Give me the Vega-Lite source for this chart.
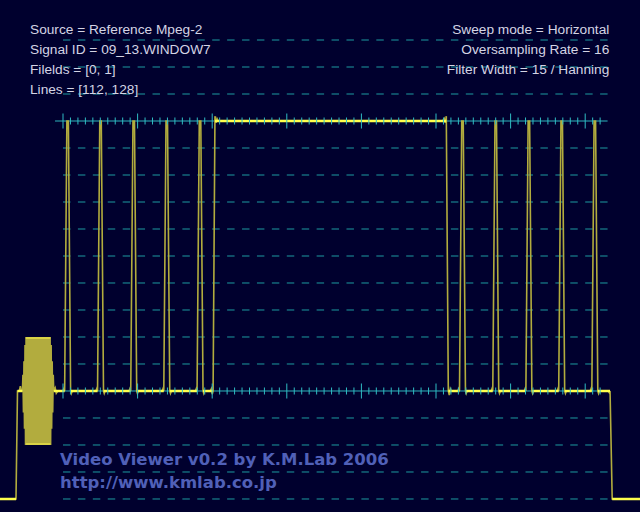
{
  "$schema": "https://vega.github.io/schema/vega-lite/v6.json",
  "width": 640,
  "height": 512,
  "autosize": {"type": "none"},
  "padding": 0,
  "background": "#00002e",
  "config": {"view": {"stroke": null}, "axis": {"disable": true}},
  "datasets": {
    "levels": [{"level": 130}, {"level": 120}, {"level": 110}, {"level": 90}, {"level": 80}, {"level": 70}, {"level": 60}, {"level": 50}, {"level": 40}, {"level": 30}, {"level": 20}, {"level": 10}, {"level": -10}, {"level": -20}, {"level": -30}, {"level": -40}],
    "solid": [{"level": 0}, {"level": 100}],
    "major": [{"t": 0}, {"t": 10}, {"t": 20}, {"t": 30}, {"t": 40}, {"t": 50}, {"t": 60}, {"t": 70}],
    "minor": [{"t": 1}, {"t": 2}, {"t": 3}, {"t": 4}, {"t": 5}, {"t": 6}, {"t": 7}, {"t": 8}, {"t": 9},
              {"t": 11}, {"t": 12}, {"t": 13}, {"t": 14}, {"t": 15}, {"t": 16}, {"t": 17}, {"t": 18}, {"t": 19},
              {"t": 21}, {"t": 22}, {"t": 23}, {"t": 24}, {"t": 25}, {"t": 26}, {"t": 27}, {"t": 28}, {"t": 29},
              {"t": 31}, {"t": 32}, {"t": 33}, {"t": 34}, {"t": 35}, {"t": 36}, {"t": 37}, {"t": 38}, {"t": 39},
              {"t": 41}, {"t": 42}, {"t": 43}, {"t": 44}, {"t": 45}, {"t": 46}, {"t": 47}, {"t": 48}, {"t": 49},
              {"t": 51}, {"t": 52}, {"t": 53}, {"t": 54}, {"t": 55}, {"t": 56}, {"t": 57}, {"t": 58}, {"t": 59},
              {"t": 61}, {"t": 62}, {"t": 63}, {"t": 64}, {"t": 65}, {"t": 66}, {"t": 67}, {"t": 68}, {"t": 69},
              {"t": 71}, {"t": 72}],
    "wave": [
      {"t": -8.445, "v": -40}, {"t": -6.3, "v": -40}, {"t": -6.1, "v": 0}, {"t": -5.85, "v": 0}, {"t": -5.72, "v": 1.8}, {"t": -5.6, "v": 0}, {"t": -5.44, "v": 0},
      {"t": -5.37, "v": 6}, {"t": -5.30, "v": -8}, {"t": -5.23, "v": 11}, {"t": -5.16, "v": -14}, {"t": -5.09, "v": 17},
      {"t": -5.02, "v": -20}, {"t": -4.95, "v": 20}, {"t": -4.88, "v": -20}, {"t": -4.81, "v": 20}, {"t": -4.74, "v": -20}, {"t": -4.67, "v": 20},
      {"t": -4.60, "v": -20}, {"t": -4.53, "v": 20}, {"t": -4.46, "v": -20}, {"t": -4.39, "v": 20}, {"t": -4.32, "v": -20}, {"t": -4.25, "v": 20},
      {"t": -4.18, "v": -20}, {"t": -4.11, "v": 20}, {"t": -4.04, "v": -20}, {"t": -3.97, "v": 20}, {"t": -3.90, "v": -20}, {"t": -3.83, "v": 20},
      {"t": -3.76, "v": -20}, {"t": -3.69, "v": 20}, {"t": -3.62, "v": -20}, {"t": -3.55, "v": 20}, {"t": -3.48, "v": -20}, {"t": -3.41, "v": 20},
      {"t": -3.34, "v": -20}, {"t": -3.27, "v": 20}, {"t": -3.20, "v": -20}, {"t": -3.13, "v": 20}, {"t": -3.06, "v": -20}, {"t": -2.99, "v": 20},
      {"t": -2.92, "v": -20}, {"t": -2.85, "v": 20}, {"t": -2.78, "v": -20}, {"t": -2.71, "v": 20}, {"t": -2.64, "v": -20}, {"t": -2.57, "v": 20},
      {"t": -2.50, "v": -20}, {"t": -2.43, "v": 20}, {"t": -2.36, "v": -20}, {"t": -2.29, "v": 20}, {"t": -2.22, "v": -20}, {"t": -2.15, "v": 20},
      {"t": -2.08, "v": -20}, {"t": -2.01, "v": 20}, {"t": -1.94, "v": -20}, {"t": -1.87, "v": 20}, {"t": -1.80, "v": -20}, {"t": -1.73, "v": 20},
      {"t": -1.66, "v": -20},
      {"t": -1.59, "v": 17}, {"t": -1.52, "v": -14}, {"t": -1.45, "v": 11}, {"t": -1.38, "v": -8}, {"t": -1.31, "v": 6}, {"t": -1.24, "v": 0},
      {"t": -1.05, "v": 1.2}, {"t": -0.9, "v": -0.8}, {"t": -0.7, "v": 0},
      {"t": 0.0, "v": 0}, {"t": 0.12, "v": 0.9}, {"t": 0.22, "v": 0}, {"t": 0.52, "v": 100}, {"t": 0.72, "v": 100}, {"t": 1.02, "v": 0}, {"t": 1.12, "v": -0.9}, {"t": 1.24, "v": 0},
      {"t": 4.41, "v": 0}, {"t": 4.53, "v": 0.9}, {"t": 4.63, "v": 0}, {"t": 4.93, "v": 100}, {"t": 5.13, "v": 100}, {"t": 5.43, "v": 0}, {"t": 5.53, "v": -0.9}, {"t": 5.65, "v": 0},
      {"t": 8.86, "v": 0}, {"t": 8.98, "v": 0.9}, {"t": 9.08, "v": 0}, {"t": 9.38, "v": 100}, {"t": 9.58, "v": 100}, {"t": 9.88, "v": 0}, {"t": 9.98, "v": -0.9}, {"t": 10.1, "v": 0},
      {"t": 13.29, "v": 0}, {"t": 13.41, "v": 0.9}, {"t": 13.51, "v": 0}, {"t": 13.81, "v": 100}, {"t": 14.01, "v": 100}, {"t": 14.31, "v": 0}, {"t": 14.41, "v": -0.9}, {"t": 14.53, "v": 0},
      {"t": 17.75, "v": 0}, {"t": 17.87, "v": 0.9}, {"t": 17.97, "v": 0}, {"t": 18.27, "v": 100}, {"t": 18.47, "v": 100}, {"t": 18.77, "v": 0}, {"t": 18.87, "v": -0.9}, {"t": 18.99, "v": 0},
      {"t": 19.75, "v": 0}, {"t": 19.88, "v": 0.8}, {"t": 20.0, "v": -1.2}, {"t": 20.12, "v": 0}, {"t": 20.37, "v": 101.8}, {"t": 20.5, "v": 99.3}, {"t": 20.65, "v": 100.9}, {"t": 20.8, "v": 100},
      {"t": 50.9, "v": 100}, {"t": 51.1, "v": 100.9}, {"t": 51.25, "v": 99.3}, {"t": 51.38, "v": 101.8}, {"t": 51.65, "v": 0}, {"t": 51.78, "v": -1.5}, {"t": 51.92, "v": 0.8}, {"t": 52.05, "v": 0},
      {"t": 52.93, "v": 0}, {"t": 53.05, "v": 0.9}, {"t": 53.15, "v": 0}, {"t": 53.45, "v": 100}, {"t": 53.65, "v": 100}, {"t": 53.95, "v": 0}, {"t": 54.05, "v": -0.9}, {"t": 54.17, "v": 0},
      {"t": 57.39, "v": 0}, {"t": 57.51, "v": 0.9}, {"t": 57.61, "v": 0}, {"t": 57.91, "v": 100}, {"t": 58.11, "v": 100}, {"t": 58.41, "v": 0}, {"t": 58.51, "v": -0.9}, {"t": 58.63, "v": 0},
      {"t": 61.83, "v": 0}, {"t": 61.95, "v": 0.9}, {"t": 62.05, "v": 0}, {"t": 62.35, "v": 100}, {"t": 62.55, "v": 100}, {"t": 62.85, "v": 0}, {"t": 62.95, "v": -0.9}, {"t": 63.07, "v": 0},
      {"t": 66.23, "v": 0}, {"t": 66.35, "v": 0.9}, {"t": 66.45, "v": 0}, {"t": 66.75, "v": 100}, {"t": 66.95, "v": 100}, {"t": 67.25, "v": 0}, {"t": 67.35, "v": -0.9}, {"t": 67.47, "v": 0},
      {"t": 70.67, "v": 0}, {"t": 70.79, "v": 0.9}, {"t": 70.89, "v": 0}, {"t": 71.19, "v": 100}, {"t": 71.39, "v": 100}, {"t": 71.69, "v": 0}, {"t": 71.79, "v": -0.9}, {"t": 71.91, "v": 0},
      {"t": 73.1, "v": 0}, {"t": 73.22, "v": -0.6}, {"t": 73.33, "v": 0}, {"t": 73.62, "v": -40}, {"t": 77.35, "v": -40}
    ],
    "flats": [
      {"t1": -8.445, "t2": -6.3, "v": -40}, {"t1": 73.62, "t2": 77.35, "v": -40},
      {"t1": -6.1, "t2": -5.44, "v": 0}, {"t1": -1.24, "t2": 0.22, "v": 0}, {"t1": 1.02, "t2": 4.63, "v": 0}, {"t1": 5.43, "t2": 9.08, "v": 0},
      {"t1": 9.88, "t2": 13.51, "v": 0}, {"t1": 14.31, "t2": 17.97, "v": 0}, {"t1": 18.77, "t2": 20.12, "v": 0},
      {"t1": 20.37, "t2": 51.38, "v": 100},
      {"t1": 51.65, "t2": 53.15, "v": 0}, {"t1": 53.95, "t2": 57.61, "v": 0}, {"t1": 58.41, "t2": 62.05, "v": 0},
      {"t1": 62.85, "t2": 66.45, "v": 0}, {"t1": 67.25, "t2": 70.89, "v": 0}, {"t1": 71.69, "t2": 73.33, "v": 0}
    ],
    "burstEdges": [
      {"t1": -4.92, "t2": -1.76, "v": 19.6}, {"t1": -4.92, "t2": -1.76, "v": -19.6}
    ]
  },
  "layer": [
    {
      "data": {"name": "levels"},
      "mark": {"type": "rule", "stroke": "#1c9aa0", "strokeWidth": 1, "strokeDash": [7.46, 7.46]},
      "encoding": {
        "x": {"datum": 0, "type": "quantitative", "scale": {"domain": [-8.445, 77.346], "nice": false, "zero": false}, "axis": null},
        "x2": {"datum": 73},
        "y": {"field": "level", "type": "quantitative", "scale": {"domain": [-44.815, 144.815], "nice": false, "zero": false}, "axis": null}
      }
    },
    {
      "data": {"name": "solid"},
      "mark": {"type": "rule", "stroke": "#2cb4bc", "strokeWidth": 1},
      "encoding": {
        "x": {"datum": -1.07, "type": "quantitative"},
        "x2": {"datum": 73},
        "y": {"field": "level", "type": "quantitative"}
      }
    },
    {
      "data": {"name": "wave"},
      "mark": {"type": "line", "stroke": "#b2ac3e", "strokeWidth": 1.6, "clip": true},
      "encoding": {
        "x": {"field": "t", "type": "quantitative"},
        "y": {"field": "v", "type": "quantitative"},
        "order": {"value": null}
      }
    },
    {
      "data": {"name": "burstEdges"},
      "mark": {"type": "rule", "stroke": "#e6e04a", "strokeWidth": 1.5, "strokeCap": "round"},
      "encoding": {
        "x": {"field": "t1", "type": "quantitative"},
        "x2": {"field": "t2"},
        "y": {"field": "v", "type": "quantitative"}
      }
    },
    {
      "data": {"name": "flats"},
      "mark": {"type": "rule", "stroke": "#ffff4c", "strokeWidth": 2.5, "clip": true},
      "encoding": {
        "x": {"field": "t1", "type": "quantitative"},
        "x2": {"field": "t2"},
        "y": {"field": "v", "type": "quantitative"}
      }
    },
    {
      "data": {"name": "major"},
      "mark": {"type": "tick", "orient": "vertical", "size": 15, "thickness": 1, "color": "#2fbcc4", "opacity": 1},
      "encoding": {"x": {"field": "t", "type": "quantitative"}, "y": {"datum": 0, "type": "quantitative"}}
    },
    {
      "data": {"name": "major"},
      "mark": {"type": "tick", "orient": "vertical", "size": 15, "thickness": 1, "color": "#2fbcc4", "opacity": 1},
      "encoding": {"x": {"field": "t", "type": "quantitative"}, "y": {"datum": 100, "type": "quantitative"}}
    },
    {
      "data": {"name": "minor"},
      "mark": {"type": "tick", "orient": "vertical", "size": 7, "thickness": 1, "color": "#2fbcc4", "opacity": 1},
      "encoding": {"x": {"field": "t", "type": "quantitative"}, "y": {"datum": 0, "type": "quantitative"}}
    },
    {
      "data": {"name": "minor"},
      "mark": {"type": "tick", "orient": "vertical", "size": 7, "thickness": 1, "color": "#2fbcc4", "opacity": 1},
      "encoding": {"x": {"field": "t", "type": "quantitative"}, "y": {"datum": 100, "type": "quantitative"}}
    },
    {
      "data": {"values": [{}]},
      "mark": {"type": "text", "align": "left", "baseline": "alphabetic", "font": "Liberation Sans", "fontSize": 13.7, "lineHeight": 20, "color": "#d4d4e4"},
      "encoding": {
        "x": {"datum": -4.424, "type": "quantitative"},
        "y": {"datum": 132.04, "type": "quantitative"},
        "text": {"value": ["Source = Reference Mpeg-2", "Signal ID = 09_13.WINDOW7", "Filelds = [0, 1]", "Lines = [112, 128]"]}
      }
    },
    {
      "data": {"values": [{}]},
      "mark": {"type": "text", "align": "right", "baseline": "alphabetic", "font": "Liberation Sans", "fontSize": 13.7, "lineHeight": 20, "color": "#d4d4e4"},
      "encoding": {
        "x": {"datum": 73.23, "type": "quantitative"},
        "y": {"datum": 132.04, "type": "quantitative"},
        "text": {"value": ["Sweep mode = Horizontal", "Oversampling Rate = 16", "Filter Width = 15 / Hanning"]}
      }
    },
    {
      "data": {"values": [{}]},
      "mark": {"type": "text", "align": "left", "baseline": "alphabetic", "font": "DejaVu Sans", "fontWeight": "bold", "fontSize": 16.5, "lineHeight": 23, "color": "#5060b8"},
      "encoding": {
        "x": {"datum": -0.40, "type": "quantitative"},
        "y": {"datum": -27.41, "type": "quantitative"},
        "text": {"value": ["Video Viewer v0.2 by K.M.Lab 2006", "http://www.kmlab.co.jp"]}
      }
    }
  ]
}
